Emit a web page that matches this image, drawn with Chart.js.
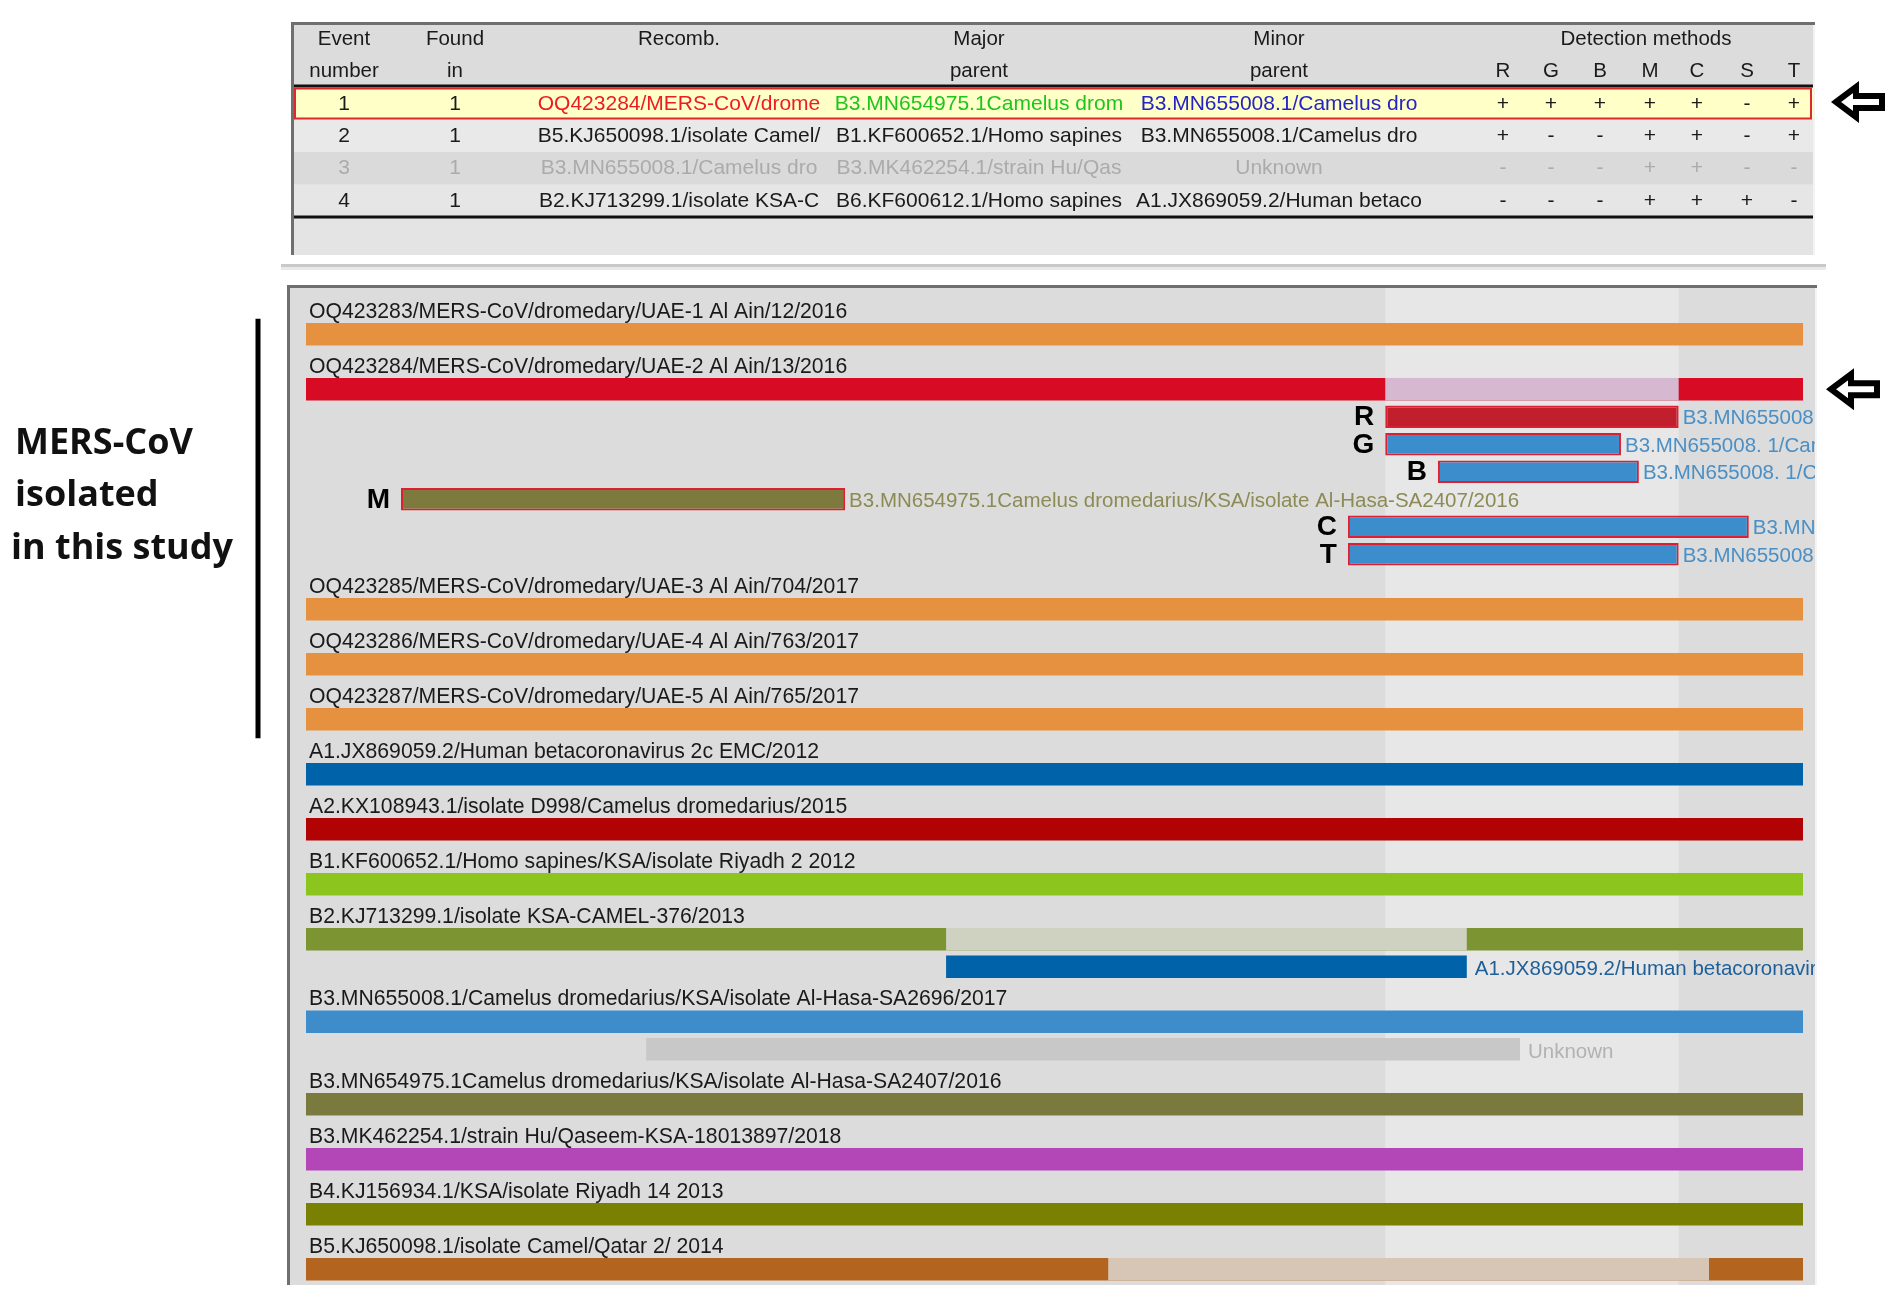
<!DOCTYPE html>
<html><head><meta charset="utf-8">
<script src="https://cdn.jsdelivr.net/npm/chart.js@4.4.1/dist/chart.umd.min.js"></script>
<style>html,body{margin:0;padding:0;background:#fff;overflow:hidden}canvas{display:block}</style>
</head><body>
<canvas id="c" width="1902" height="1315"></canvas>
<script>
// ---------------- DATA ----------------
const GENOME_LENGTH = 30100;

// sequences in the alignment (top to bottom)
const seqNames = [
  'OQ423283/MERS-CoV/dromedary/UAE-1 Al Ain/12/2016',
  'OQ423284/MERS-CoV/dromedary/UAE-2 Al Ain/13/2016',
  'OQ423285/MERS-CoV/dromedary/UAE-3 Al Ain/704/2017',
  'OQ423286/MERS-CoV/dromedary/UAE-4 Al Ain/763/2017',
  'OQ423287/MERS-CoV/dromedary/UAE-5 Al Ain/765/2017',
  'A1.JX869059.2/Human betacoronavirus 2c EMC/2012',
  'A2.KX108943.1/isolate D998/Camelus dromedarius/2015',
  'B1.KF600652.1/Homo sapines/KSA/isolate Riyadh 2 2012',
  'B2.KJ713299.1/isolate KSA-CAMEL-376/2013',
  'B3.MN655008.1/Camelus dromedarius/KSA/isolate Al-Hasa-SA2696/2017',
  'B3.MN654975.1Camelus dromedarius/KSA/isolate Al-Hasa-SA2407/2016',
  'B3.MK462254.1/strain Hu/Qaseem-KSA-18013897/2018',
  'B4.KJ156934.1/KSA/isolate Riyadh 14 2013',
  'B5.KJ650098.1/isolate Camel/Qatar 2/ 2014'
];
const seqColors = ['#e6913f','#d80b24','#e6913f','#e6913f','#e6913f','#0063a9','#b10303','#8dc51f',
  '#7c9431','#3e8dca','#7b7a3e','#b447b7','#7a8001','#b3641f'];

// recombinant regions (pale segment on the recombinant sequence bar)
const recombSeq   = [1, 8, 13];
const recombStart = [21700, 12870, 16130];
const recombEnd   = [27600, 23340, 28210];
const recombFill  = ['#d7b8d1', '#cfd1c1', '#d7c6b6'];

// event 1: detection-method support bars shown under OQ423284
const methodSeq = 1;
const methodNames  = ['R', 'G', 'B', 'M', 'C', 'T'];
const methodStart  = [21700, 21700, 22760, 1910, 20950, 20950];
const methodEnd    = [27600, 26440, 26800, 10840, 29010, 27600];
const methodFill   = ['#c21f2e', '#3b8dcc', '#3b8dcc', '#7e7a3d', '#3b8dcc', '#3b8dcc'];
const methodParent = [
  'B3.MN655008.1/Camelus dromedarius/KSA/isolate Al-Hasa-SA2696/2017',
  'B3.MN655008. 1/Camelus dromedarius/KSA/isolate Al-Hasa-SA2696/2017',
  'B3.MN655008. 1/Camelus dromedarius/KSA/isolate Al-Hasa-SA2696/2017',
  'B3.MN654975.1Camelus dromedarius/KSA/isolate Al-Hasa-SA2407/2016',
  'B3.MN655008.1/Camelus dromedarius/KSA/isolate Al-Hasa-SA2696/2017',
  'B3.MN655008.1/Camelus dromedarius/KSA/isolate Al-Hasa-SA2696/2017'
];
const methodParentColor = ['#4b8fc4','#4b8fc4','#4b8fc4','#8c8b55','#4b8fc4','#4b8fc4'];

// minor-parent bars shown under other recombinants
const parentSeq   = [8, 9];
const parentStart = [12870, 6840];
const parentEnd   = [23340, 24410];
const parentFill  = ['#0063a9', '#c8c8c8'];
const parentName  = ['A1.JX869059.2/Human betacoronavirus 2c EMC/2012', 'Unknown'];
const parentNameColor = ['#1f5f98', '#b2b2b2'];

// recombination event table
const headerTop = ['Event', 'Found', 'Recomb.', 'Major', 'Minor', 'Detection methods'];
const headerBottom = ['number', 'in', '', 'parent', 'parent'];
const detectionMethods = ['R', 'G', 'B', 'M', 'C', 'S', 'T'];
const eventNumber = ['1', '2', '3', '4'];
const foundIn = ['1', '1', '1', '1'];
const recombSeqs = ['OQ423284/MERS-CoV/drome', 'B5.KJ650098.1/isolate Camel/', 'B3.MN655008.1/Camelus dro', 'B2.KJ713299.1/isolate KSA-C'];
const majorParents = ['B3.MN654975.1Camelus drom', 'B1.KF600652.1/Homo sapines', 'B3.MK462254.1/strain Hu/Qas', 'B6.KF600612.1/Homo sapines'];
const minorParents = ['B3.MN655008.1/Camelus dro', 'B3.MN655008.1/Camelus dro', 'Unknown', 'A1.JX869059.2/Human betaco'];
const detectionResults = ['+++++-+', '+--++-+', '---++--', '---+++-'];

const annotationLines = ['MERS-CoV', 'isolated', 'in this study'];

// ---------------- SLOTS (rows of the lower panel) ----------------
const slots = [];
seqNames.forEach((n, i) => {
  slots.push({kind: 'label', seq: i});
  slots.push({kind: 'bar', seq: i});
  if (i === methodSeq) methodNames.forEach((m, k) => slots.push({kind: 'method', k}));
  parentSeq.forEach((p, k) => { if (p === i) slots.push({kind: 'parent', k}); });
});
const slotIds = slots.map((s, i) => 'row' + i);
const barSlot = i => slotIds[slots.findIndex(s => s.kind === 'bar' && s.seq === i)];
const methodSlot = k => slotIds[slots.findIndex(s => s.kind === 'method' && s.k === k)];
const parentSlot = k => slotIds[slots.findIndex(s => s.kind === 'parent' && s.k === k)];

const FONT = '"Liberation Sans", Arial, sans-serif';

function drawArrow(ctx, tipX, cy) {
  ctx.save();
  ctx.beginPath();
  ctx.moveTo(tipX + 2, cy);
  ctx.lineTo(tipX + 22, cy - 15);
  ctx.lineTo(tipX + 22, cy - 6);
  ctx.lineTo(tipX + 48, cy - 6);
  ctx.lineTo(tipX + 48, cy + 6);
  ctx.lineTo(tipX + 22, cy + 6);
  ctx.lineTo(tipX + 22, cy + 15);
  ctx.closePath();
  ctx.fillStyle = '#fff'; ctx.fill();
  ctx.lineWidth = 6; ctx.lineJoin = 'miter'; ctx.strokeStyle = '#000'; ctx.stroke();
  ctx.restore();
}

function drawTable(ctx) {
  const L = 291, R = 1815, T = 22, B = 255;
  ctx.fillStyle = '#e4e4e4'; ctx.fillRect(L, T, R - L, B - T);
  ctx.fillStyle = '#dcdcdc'; ctx.fillRect(L, T, R - L, 86 - T);
  const rowTop = [87, 119, 152, 184.5], rowBot = [119, 152, 184.5, 216];
  const rowBg = ['#ffffc8', '#e9e9e9', '#dadada', '#e6e6e6'];
  rowTop.forEach((t, r) => { ctx.fillStyle = rowBg[r]; ctx.fillRect(L + 3, t, R - L - 5, rowBot[r] - t); });
  // borders
  ctx.fillStyle = '#6f6f6f'; ctx.fillRect(L, T, R - L, 3); ctx.fillRect(L, T, 3, B - T);
  ctx.fillStyle = '#f3f3f3'; ctx.fillRect(R - 2, T + 3, 2, B - T - 3);
  ctx.fillStyle = '#111'; ctx.fillRect(L + 3, 84.5, R - L - 5, 3); ctx.fillRect(L + 3, 215.5, R - L - 5, 3);
  ctx.strokeStyle = '#e0262e'; ctx.lineWidth = 2; ctx.strokeRect(L + 4, 88.5, R - L - 8, 30);
  // header text
  ctx.font = '20.5px ' + FONT; ctx.textAlign = 'center'; ctx.textBaseline = 'middle'; ctx.fillStyle = '#1a1a1a';
  const colX = [344, 455, 679, 979, 1279, 1646];
  headerTop.forEach((h, i) => ctx.fillText(h, colX[i], 39));
  headerBottom.forEach((h, i) => { if (h) ctx.fillText(h, colX[i], 71); });
  const detX = [1503, 1551, 1600, 1650, 1697, 1747, 1794];
  detectionMethods.forEach((m, i) => ctx.fillText(m, detX[i], 71));
  const rowY = [104, 136.5, 168.5, 201];
  ctx.font = '21px ' + FONT;
  eventNumber.forEach((e, r) => {
    const grey = r === 2;
    const base = grey ? '#ababab' : '#1a1a1a';
    ctx.fillStyle = base;
    ctx.fillText(e, colX[0], rowY[r]);
    ctx.fillText(foundIn[r], colX[1], rowY[r]);
    ctx.fillStyle = r === 0 ? '#ec1c24' : base; ctx.fillText(recombSeqs[r], colX[2], rowY[r]);
    ctx.fillStyle = r === 0 ? '#1fc41f' : base; ctx.fillText(majorParents[r], colX[3], rowY[r]);
    ctx.fillStyle = r === 0 ? '#2424c4' : base; ctx.fillText(minorParents[r], colX[4], rowY[r]);
    ctx.fillStyle = base;
    detectionResults[r].split('').forEach((d, j) => ctx.fillText(d, detX[j], rowY[r]));
  });
  // separator under table
  ctx.fillStyle = '#c9c9c9'; ctx.fillRect(281, 264, 1545, 3);
  ctx.fillStyle = '#e9e9e9'; ctx.fillRect(281, 267, 1545, 3);
}

const panelPlugin = {
  id: 'panel',
  beforeDraw(chart) {
    const ctx = chart.ctx, a = chart.chartArea, xs = chart.scales.x;
    ctx.save();
    ctx.fillStyle = '#fff'; ctx.fillRect(0, 0, chart.width, chart.height);
    drawTable(ctx);
    // lower panel
    const pl = a.left - 19, pr = a.right + 14, pt = a.top - 8, pb = a.bottom + 2;
    ctx.fillStyle = '#dcdcdc'; ctx.fillRect(pl, pt, pr - pl, pb - pt);
    const hx0 = xs.getPixelForValue(recombStart[0]), hx1 = xs.getPixelForValue(recombEnd[0]);
    ctx.fillStyle = '#e7e7e7'; ctx.fillRect(hx0, pt, hx1 - hx0, pb - pt);
    ctx.fillStyle = '#6f6f6f'; ctx.fillRect(pl, pt, pr - pl, 3); ctx.fillRect(pl, pt, 3, pb - pt);
    ctx.fillStyle = '#f3f3f3'; ctx.fillRect(pr - 2, pt + 3, 2, pb - pt - 3);
    // arrows
    drawArrow(ctx, 1834, 102);
    const ys = chart.scales.y;
    drawArrow(ctx, 1829, ys.getPixelForValue(slotIds.indexOf(barSlot(methodSeq))));
    // annotation bracket and text
    const top = ys.getPixelForValue(0) + 12;
    const bot = ys.getPixelForValue(slotIds.indexOf(barSlot(4))) + 19;
    ctx.fillStyle = '#000'; ctx.fillRect(255.5, top, 5, bot - top);
    ctx.font = 'bold 36px "Open Sans", Lato, sans-serif';
    ctx.textAlign = 'left'; ctx.textBaseline = 'middle'; ctx.fillStyle = '#111';
    const lx = [15, 15, 11], ly = [444, 496, 549];
    annotationLines.forEach((t, i) => ctx.fillText(t, lx[i], ly[i]));
    ctx.restore();
  },
  afterDatasetsDraw(chart) {
    const ctx = chart.ctx, a = chart.chartArea, xs = chart.scales.x, ys = chart.scales.y;
    const pr = a.right + 12;
    ctx.save();
    ctx.textAlign = 'left'; ctx.textBaseline = 'middle';
    slots.forEach((s, i) => {
      const y = ys.getPixelForValue(i);
      if (s.kind === 'label') {
        ctx.font = '21.2px ' + FONT; ctx.fillStyle = '#1a1a1a';
        ctx.fillText(seqNames[s.seq], xs.getPixelForValue(0) + 3, y + 5);
      }
    });
    ctx.beginPath(); ctx.rect(a.left - 100, a.top - 10, pr - a.left + 100, a.bottom - a.top + 20); ctx.clip();
    methodNames.forEach((m, k) => {
      const y = ys.getPixelForValue(slotIds.indexOf(methodSlot(k)));
      ctx.font = 'bold 28px ' + FONT; ctx.fillStyle = '#000'; ctx.textAlign = 'right';
      ctx.fillText(m, xs.getPixelForValue(methodStart[k]) - 11, y + 1);
      ctx.font = '20.5px ' + FONT; ctx.fillStyle = methodParentColor[k]; ctx.textAlign = 'left';
      ctx.fillText(methodParent[k], xs.getPixelForValue(methodEnd[k]) + 4, y + 2);
    });
    parentName.forEach((n, k) => {
      const y = ys.getPixelForValue(slotIds.indexOf(parentSlot(k)));
      ctx.font = '20.5px ' + FONT; ctx.fillStyle = parentNameColor[k]; ctx.textAlign = 'left';
      ctx.fillText(n, xs.getPixelForValue(parentEnd[k]) + 8, y + 3);
    });
    ctx.restore();
  }
};

const common = {grouped: false, barPercentage: 0.82, categoryPercentage: 1.0, borderSkipped: false};

new Chart(document.getElementById('c'), {
  type: 'bar',
  data: {
    labels: slotIds,
    datasets: [
      Object.assign({label: 'sequences', order: 4,
        data: seqNames.map((n, i) => ({y: barSlot(i), x: [0, GENOME_LENGTH]})),
        backgroundColor: seqColors, borderWidth: 0}, common),
      Object.assign({label: 'recombinant regions', order: 3,
        data: recombSeq.map((s, k) => ({y: barSlot(s), x: [recombStart[k], recombEnd[k]]})),
        backgroundColor: recombFill, borderWidth: 0}, common),
      Object.assign({label: 'detection methods', order: 2,
        data: methodNames.map((m, k) => ({y: methodSlot(k), x: [methodStart[k], methodEnd[k]]})),
        backgroundColor: methodFill, borderColor: '#dc2032', borderWidth: 2}, common),
      Object.assign({label: 'minor parents', order: 1,
        data: parentSeq.map((s, k) => ({y: parentSlot(k), x: [parentStart[k], parentEnd[k]]})),
        backgroundColor: parentFill, borderWidth: 0}, common)
    ]
  },
  options: {
    indexAxis: 'y',
    responsive: false,
    animation: false,
    devicePixelRatio: 1,
    layout: {padding: {left: 306, right: 99, top: 293, bottom: 32}},
    scales: {
      x: {type: 'linear', min: 0, max: GENOME_LENGTH, display: false},
      y: {type: 'category', display: false, offset: true}
    },
    plugins: {legend: {display: false}, tooltip: {enabled: false}}
  },
  plugins: [panelPlugin]
});
</script>
</body></html>
